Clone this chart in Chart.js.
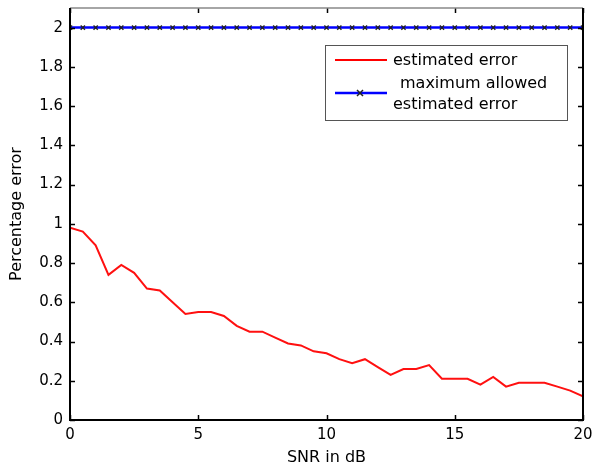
<!DOCTYPE html>
<html lang="en">
<head>
  <meta charset="UTF-8">
  <title>Percentage error vs SNR</title>
  <style>
    html, body { margin: 0; padding: 0; background: #fff; }
  </style>
</head>
<body>
  <canvas id="grafico" width="595" height="468"></canvas>

  <script src="https://cdn.jsdelivr.net/npm/chart.js"></script>

  <script>
    // SNR steps (dB)
    const snr = [0,0.5,1,1.5,2,2.5,3,3.5,4,4.5,5,5.5,6,6.5,7,7.5,8,8.5,9,9.5,10,
                 10.5,11,11.5,12,12.5,13,13.5,14,14.5,15,15.5,16,16.5,17,17.5,18,18.5,19,19.5,20]

    // estimated error
    const estErro = [0.98,0.96,0.89,0.74,0.79,0.75,0.67,0.66,0.60,0.54,0.55,0.55,0.53,0.48,0.45,0.45,0.42,0.39,0.38,0.35,0.34,
                     0.31,0.29,0.31,0.27,0.23,0.26,0.26,0.28,0.21,0.21,0.21,0.18,0.22,0.17,0.19,0.19,0.19,0.17,0.15,0.12]

    // maximum allowed estimated error
    const maxErro = [2,2,2,2,2,2,2,2,2,2,2,2,2,2,2,2,2,2,2,2,2,
                     2,2,2,2,2,2,2,2,2,2,2,2,2,2,2,2,2,2,2,2]

    const xTicks = [0,5,10,15,20]
    const yTicks = [0,0.2,0.4,0.6,0.8,1,1.2,1.4,1.6,1.8,2]

    const legenda = [
      { texto: ["estimated error"], cor: "#ff0000" },
      { texto: ["maximum allowed", "estimated error"], cor: "#0000ff" }
    ]

    const fonte = "'DejaVu Sans', sans-serif"

    // frame, inward ticks and legend box
    const moldura = {
      id: 'moldura',
      afterDatasetsDraw(chart) {
        const c = chart.ctx, a = chart.chartArea
        const sx = chart.scales.x, sy = chart.scales.y
        c.save()
        // ticks inward
        c.strokeStyle = '#000'
        c.lineWidth = 1.5
        yTicks.forEach(v => {
          const p = Math.round(sy.getPixelForValue(v)) + 0.5
          c.beginPath(); c.moveTo(a.left, p); c.lineTo(a.left + 5, p); c.stroke()
          c.beginPath(); c.moveTo(a.right, p); c.lineTo(a.right - 5, p); c.stroke()
        })
        xTicks.forEach(v => {
          const p = Math.round(sx.getPixelForValue(v)) + 0.5
          c.beginPath(); c.moveTo(p, a.bottom); c.lineTo(p, a.bottom - 5); c.stroke()
          c.beginPath(); c.moveTo(p, a.top); c.lineTo(p, a.top + 5); c.stroke()
        })
        // frame
        c.strokeStyle = '#888'
        c.lineWidth = 1.5
        c.beginPath(); c.moveTo(a.left, a.top); c.lineTo(a.right, a.top); c.stroke()
        c.strokeStyle = '#000'
        c.lineWidth = 2
        c.beginPath()
        c.moveTo(a.left, a.top); c.lineTo(a.left, a.bottom); c.lineTo(a.right, a.bottom); c.lineTo(a.right, a.top)
        c.stroke()

        // legend
        const bx = 325, by = 45, bw = 242, bh = 75
        c.fillStyle = '#fff'
        c.fillRect(bx, by, bw, bh)
        c.strokeStyle = '#555'
        c.lineWidth = 1
        c.strokeRect(bx + 0.5, by + 0.5, bw, bh)
        c.font = '16px ' + fonte
        c.textBaseline = 'middle'
        c.fillStyle = '#000'
        // first entry
        c.strokeStyle = legenda[0].cor
        c.lineWidth = 2
        c.beginPath(); c.moveTo(335, 60); c.lineTo(387, 60); c.stroke()
        c.fillText(legenda[0].texto[0], 393, 61)
        // second entry
        c.strokeStyle = legenda[1].cor
        c.lineWidth = 2.5
        c.beginPath(); c.moveTo(335, 93); c.lineTo(387, 93); c.stroke()
        c.strokeStyle = '#222'
        c.lineWidth = 1.5
        c.beginPath(); c.moveTo(357, 90); c.lineTo(363, 96); c.moveTo(363, 90); c.lineTo(357, 96); c.stroke()
        c.fillText(legenda[1].texto[0], 400, 84)
        c.fillText(legenda[1].texto[1], 393, 105)
        c.restore()
      }
    }

    const ctx = document.getElementById('grafico')

    const grafico = new Chart(ctx, {
      type: 'line',
      data: {
        datasets: [{
          label: 'estimated error',
          data: snr.map((x, i) => ({ x: x, y: estErro[i] })),
          borderColor: '#ff1010',
          borderWidth: 2,
          pointRadius: 0,
          tension: 0
        }, {
          label: 'maximum allowed estimated error',
          data: snr.map((x, i) => ({ x: x, y: maxErro[i] })),
          borderColor: '#0000ff',
          borderWidth: 2.5,
          pointStyle: 'crossRot',
          pointRadius: 3,
          pointBorderColor: '#222',
          pointBorderWidth: 1.4,
          tension: 0
        }]
      },
      options: {
        responsive: false,
        animation: false,
        devicePixelRatio: 1,
        layout: { padding: { top: 8, right: 12, left: 0, bottom: 0 } },
        plugins: { legend: { display: false }, tooltip: { enabled: false } },
        scales: {
          x: {
            type: 'linear',
            min: 0, max: 20,
            grid: { display: false, drawTicks: false },
            border: { display: false },
            afterBuildTicks: s => { s.ticks = xTicks.map(v => ({ value: v })) },
            afterFit: s => { s.height = 48; s.paddingLeft = 0; s.paddingRight = 0 },
            ticks: { padding: 6, autoSkip: false, color: '#000', font: { family: fonte, size: 15 }, maxRotation: 0 },
            title: { display: true, text: 'SNR in dB', color: '#000', font: { family: fonte, size: 16 }, padding: { top: 0, bottom: 1 } }
          },
          y: {
            min: 0, max: 2.1,
            grid: { display: false, drawTicks: false },
            border: { display: false },
            afterBuildTicks: s => { s.ticks = yTicks.map(v => ({ value: v })) },
            afterFit: s => { s.width = 70; s.paddingTop = 0; s.paddingBottom = 0 },
            ticks: { padding: 7, autoSkip: false, color: '#000', font: { family: fonte, size: 15 },
                     callback: v => String(Math.round(v * 10) / 10) },
            title: { display: true, text: 'Percentage error', color: '#000', font: { family: fonte, size: 16 }, padding: { top: 7, bottom: 0 } }
          }
        }
      },
      plugins: [moldura]
    })
  </script>
</body>
</html>
